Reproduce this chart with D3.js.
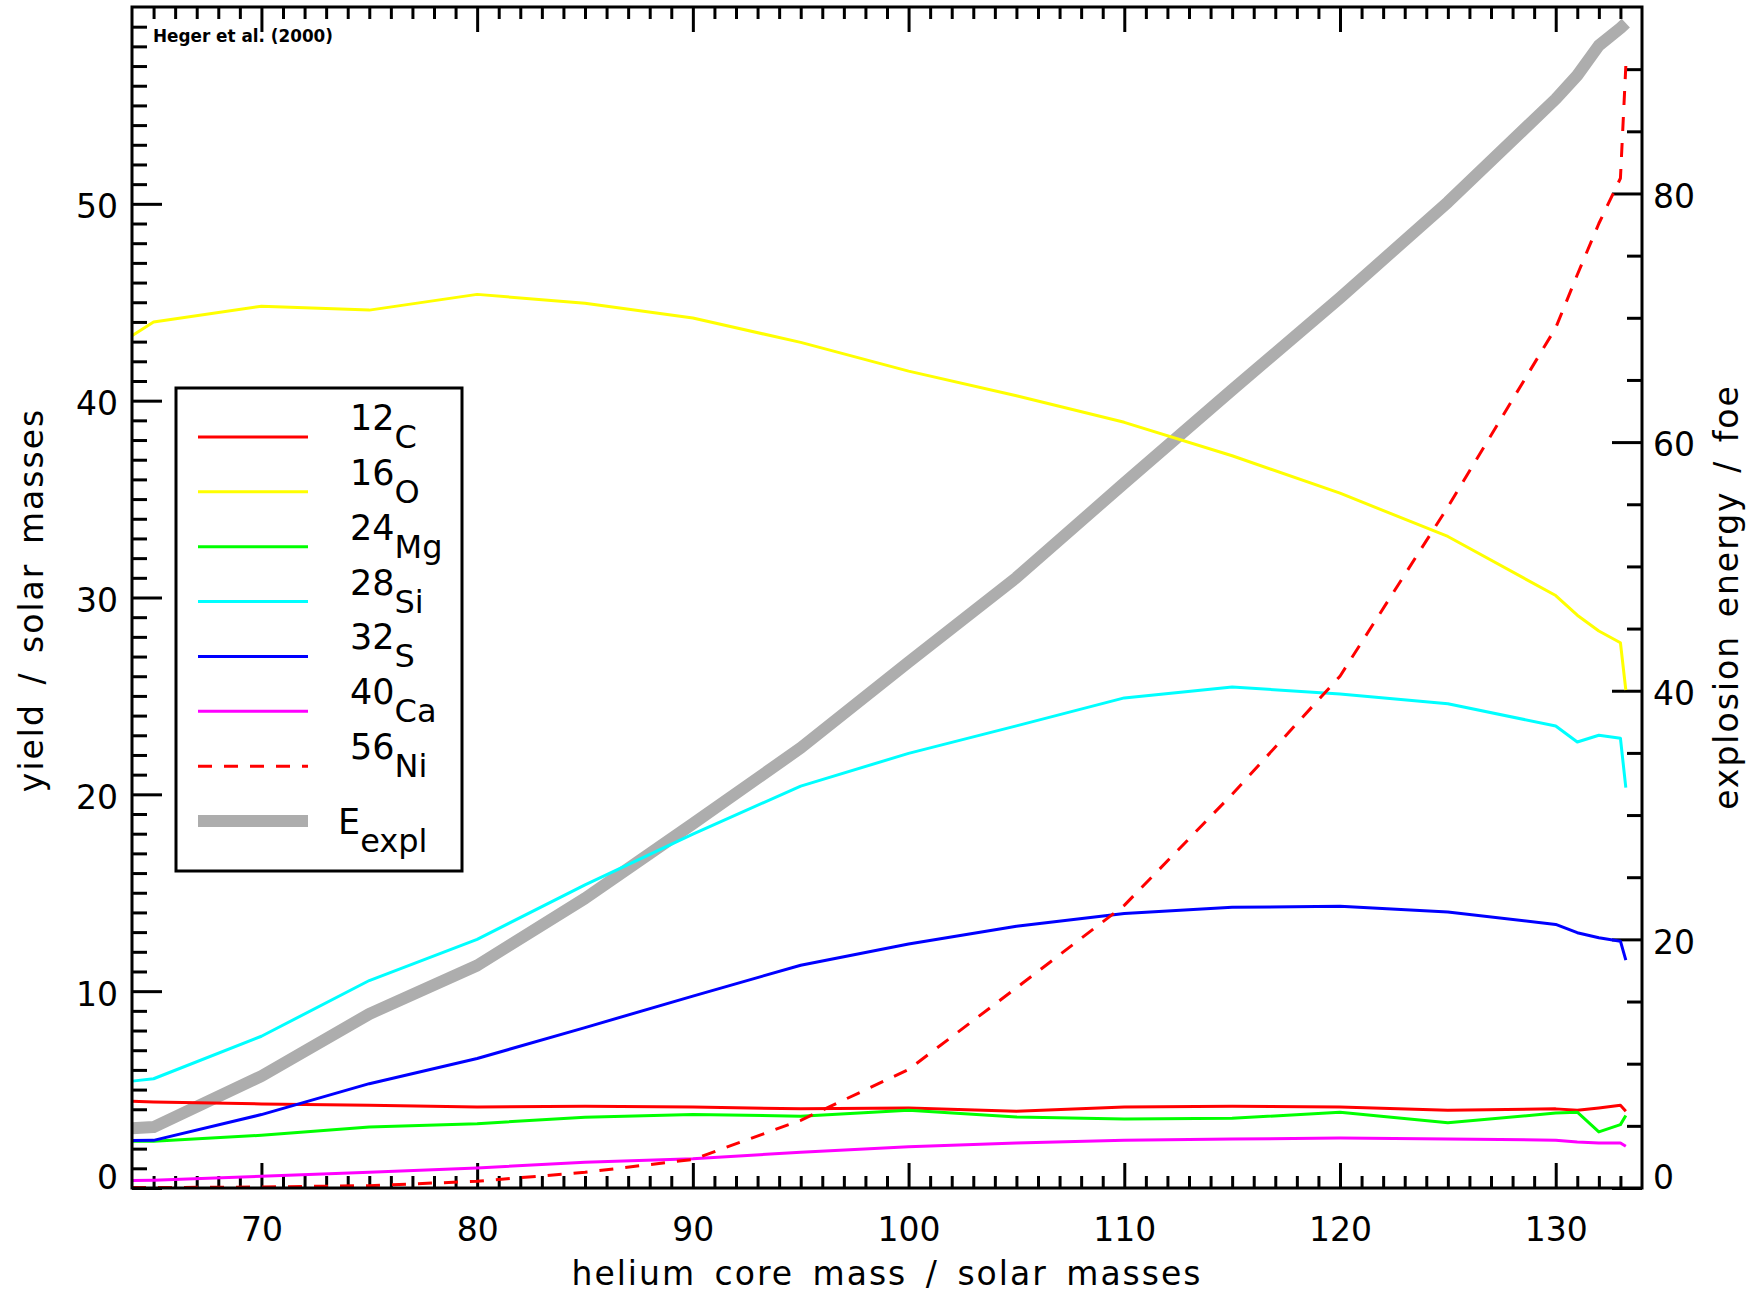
<!DOCTYPE html>
<html>
<head>
<meta charset="utf-8">
<script src="https://cdn.jsdelivr.net/npm/d3@7"></script>
<style>
  body { margin: 0; background: #fff; }
  text { font-family: "DejaVu Sans", sans-serif; fill: #000; }
</style>
</head>
<body>
<svg id="chart" width="1751" height="1296"></svg>
<script>
// helium core masses of the models
const mass = [64, 65, 70, 75, 80, 85, 90, 95, 100, 105, 110, 115, 120, 125, 130, 131, 132, 133, 133.25];

// yields in solar masses (left axis)
const c12  = [4.41, 4.37, 4.27, 4.20, 4.12, 4.15, 4.12, 4.02, 4.07, 3.90, 4.12, 4.15, 4.12, 3.95, 4.02, 3.95, 4.07, 4.20, 3.90];
const o16  = [43.3, 44.0, 44.8, 44.6, 45.4, 44.95, 44.2, 42.96, 41.5, 40.25, 38.9, 37.2, 35.3, 33.1, 30.1, 29.1, 28.3, 27.7, 25.3];
const mg24 = [2.37, 2.37, 2.68, 3.10, 3.27, 3.60, 3.73, 3.65, 3.95, 3.61, 3.51, 3.54, 3.85, 3.31, 3.81, 3.85, 2.85, 3.22, 3.68];
const si28 = [5.43, 5.55, 7.71, 10.54, 12.63, 15.4, 17.98, 20.42, 22.08, 23.48, 24.9, 25.45, 25.1, 24.6, 23.47, 22.66, 23.0, 22.85, 20.34];
const s32  = [2.41, 2.42, 3.73, 5.30, 6.58, 8.15, 9.75, 11.32, 12.4, 13.3, 13.95, 14.26, 14.32, 14.02, 13.39, 12.97, 12.71, 12.54, 11.58];
const ca40 = [0.38, 0.40, 0.60, 0.80, 1.02, 1.31, 1.48, 1.82, 2.09, 2.29, 2.43, 2.49, 2.54, 2.49, 2.43, 2.34, 2.29, 2.29, 2.12];
const ni56 = [0.02, 0.02, 0.05, 0.12, 0.34, 0.80, 1.45, 3.44, 6.02, 10.17, 14.36, 20.0, 26.0, 34.6, 43.7, 46.4, 49.0, 51.3, 57.0];

// explosion energy in foe (right axis)
const eexpl = [4.8, 4.9, 9.0, 14.0, 17.9, 23.3, 29.3, 35.4, 42.3, 49.1, 56.7, 64.2, 71.6, 79.3, 87.6, 89.5, 91.9, 93.3, 93.7];

const xMajor = [70, 80, 90, 100, 110, 120, 130];
const yLeftMajor = [0, 10, 20, 30, 40, 50];
const yRightMajor = [0, 20, 40, 60, 80];

const species = [
  { num: "12", el: "C",  data: c12,  color: "#ff0000", dash: null },
  { num: "16", el: "O",  data: o16,  color: "#ffff00", dash: null },
  { num: "24", el: "Mg", data: mg24, color: "#00ff00", dash: null },
  { num: "28", el: "Si", data: si28, color: "#00ffff", dash: null },
  { num: "32", el: "S",  data: s32,  color: "#0000ff", dash: null },
  { num: "40", el: "Ca", data: ca40, color: "#ff00ff", dash: null },
  { num: "56", el: "Ni", data: ni56, color: "#ff0000", dash: "14,12" }
];

var svg = d3.select("#chart");

// plot frame (window.top is reserved, so own names)
var frameL = 132, frameR = 1642, frameT = 7, frameB = 1188;

var x = d3.scaleLinear().domain([64, 134]).range([frameL, frameR]);
var y = d3.scaleLinear().domain([0, 60]).range([frameB, frameT]);
var y2 = d3.scaleLinear().domain([0, 95]).range([frameB, frameT]);

var xMinor = d3.range(65, 134, 1).filter(d => d % 10 != 0);
var yMinor = d3.range(1, 60, 1).filter(d => d % 10 != 0);
var y2Minor = d3.range(5, 95, 5).filter(d => d % 20 != 0);

function styleAxis(g) {
  g.select(".domain").remove();
  g.selectAll(".tick line").attr("stroke", "#000").attr("stroke-width", 3);
}

// bottom axis
svg.append("g").attr("transform", `translate(0,${frameB})`)
  .call(d3.axisBottom(x).tickValues(xMinor).tickSize(-12).tickFormat(""))
  .call(styleAxis);
svg.append("g").attr("transform", `translate(0,${frameB})`)
  .call(d3.axisBottom(x).tickValues(xMajor).tickSize(-25).tickPadding(30))
  .call(styleAxis)
  .selectAll("text").attr("font-size", 33).attr("font-family", "DejaVu Sans");

// top axis (no labels)
svg.append("g").attr("transform", `translate(0,${frameT})`)
  .call(d3.axisTop(x).tickValues(xMinor).tickSize(-12).tickFormat(""))
  .call(styleAxis);
svg.append("g").attr("transform", `translate(0,${frameT})`)
  .call(d3.axisTop(x).tickValues(xMajor).tickSize(-25).tickFormat(""))
  .call(styleAxis);

// left axis
svg.append("g").attr("transform", `translate(${frameL},0)`)
  .call(d3.axisLeft(y).tickValues(yMinor).tickSize(-15).tickFormat(""))
  .call(styleAxis);
svg.append("g").attr("transform", `translate(${frameL},0)`)
  .call(d3.axisLeft(y).tickValues(yLeftMajor).tickSize(-30).tickPadding(14))
  .call(styleAxis)
  .selectAll("text")
  .attr("font-size", 33).attr("font-family", "DejaVu Sans")
  .attr("dy", d => d == 0 ? "0em" : "0.42em");

// right axis
svg.append("g").attr("transform", `translate(${frameR},0)`)
  .call(d3.axisRight(y2).tickValues(y2Minor).tickSize(-15).tickFormat(""))
  .call(styleAxis);
svg.append("g").attr("transform", `translate(${frameR},0)`)
  .call(d3.axisRight(y2).tickValues(yRightMajor).tickSize(-30).tickPadding(11))
  .call(styleAxis)
  .selectAll("text")
  .attr("font-size", 33).attr("font-family", "DejaVu Sans")
  .attr("dy", d => d == 0 ? "0em" : "0.42em");

// the curves
var lineLeft = d3.line().x((d, i) => x(mass[i])).y(d => y(d));
var lineRight = d3.line().x((d, i) => x(mass[i])).y(d => y2(d));

svg.append("path")
  .attr("d", lineRight(eexpl))
  .attr("fill", "none")
  .attr("stroke", "#adadad")
  .attr("stroke-width", 12)
  .attr("stroke-linejoin", "round");

species.forEach(function (s) {
  svg.append("path")
    .attr("d", lineLeft(s.data))
    .attr("fill", "none")
    .attr("stroke", s.color)
    .attr("stroke-width", 3)
    .attr("stroke-dasharray", s.dash)
    .attr("stroke-linejoin", "round");
});

// frame on top
svg.append("rect")
  .attr("x", frameL).attr("y", frameT)
  .attr("width", frameR - frameL).attr("height", frameB - frameT)
  .attr("fill", "none").attr("stroke", "#000").attr("stroke-width", 3);

// axis titles (wide IDL-like spacing)
svg.append("text")
  .attr("x", 887).attr("y", 1285)
  .attr("text-anchor", "middle")
  .attr("font-size", 33).attr("letter-spacing", 2).attr("word-spacing", 6)
  .text("helium core mass / solar masses");

svg.append("text")
  .attr("transform", "translate(43,600) rotate(-90)")
  .attr("text-anchor", "middle")
  .attr("font-size", 33).attr("letter-spacing", 2).attr("word-spacing", 6)
  .text("yield / solar masses");

svg.append("text")
  .attr("transform", "translate(1738,597) rotate(-90)")
  .attr("text-anchor", "middle")
  .attr("font-size", 33).attr("letter-spacing", 2).attr("word-spacing", 5)
  .text("explosion energy / foe");

// source note
svg.append("text")
  .attr("x", 153).attr("y", 42)
  .attr("font-size", 17).attr("font-weight", "bold")
  .attr("textLength", 180).attr("lengthAdjust", "spacingAndGlyphs")
  .text("Heger et al. (2000)");

// legend
var legend = svg.append("g");
legend.append("rect")
  .attr("x", 176).attr("y", 388)
  .attr("width", 286).attr("height", 483)
  .attr("fill", "#fff").attr("stroke", "#000").attr("stroke-width", 3);

var rowY = d3.scaleLinear().domain([0, 7]).range([437, 821]);

species.forEach(function (s, i) {
  var ly = rowY(i);
  legend.append("line")
    .attr("x1", 198).attr("x2", 308)
    .attr("y1", ly).attr("y2", ly)
    .attr("stroke", s.color).attr("stroke-width", 3)
    .attr("stroke-dasharray", s.dash);
  var t = legend.append("text").attr("x", 350).attr("y", ly - 7);
  t.append("tspan").attr("font-size", 35).text(s.num);
  t.append("tspan").attr("font-size", 32).attr("dy", 18).text(s.el);
});

var ey = rowY(7);
legend.append("line")
  .attr("x1", 198).attr("x2", 308)
  .attr("y1", ey).attr("y2", ey)
  .attr("stroke", "#adadad").attr("stroke-width", 12);
var te = legend.append("text").attr("x", 338).attr("y", ey + 13);
te.append("tspan").attr("font-size", 35).text("E");
te.append("tspan").attr("font-size", 32).attr("dy", 18).text("expl");
</script>
</body>
</html>
